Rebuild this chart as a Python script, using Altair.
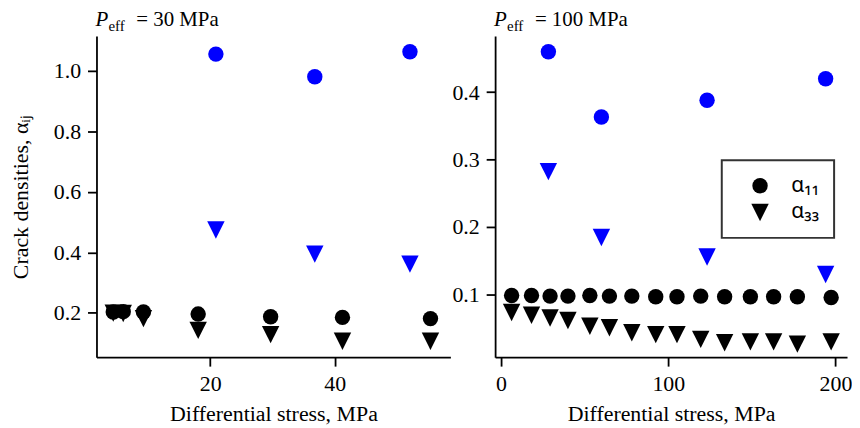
import altair as alt
import pandas as pd

# ---------------- data ----------------
comp_labels = ["α₁₁", "α₃₃"]

# Left panel: P_eff = 30 MPa
left_x_black = [4.4, 6.0, 9.25, 18.05, 29.7, 41.25, 55.4]
left_a11_black = [0.203, 0.204, 0.203, 0.196, 0.187, 0.185, 0.181]
left_a33_black = [0.199, 0.198, 0.181, 0.142, 0.128, 0.106, 0.106]
left_x_blue = [20.9, 36.8, 52.1]
left_a11_blue = [1.055, 0.980, 1.063]
left_a33_blue = [0.474, 0.394, 0.361]

# Right panel: P_eff = 100 MPa
right_x_black = [6.3, 18.2, 29.3, 40.0, 53.1, 64.8, 78.2, 92.5, 105.2, 119.4,
                 133.7, 149.1, 163.0, 177.2, 197.4]
right_a11_black = [0.098, 0.098, 0.097, 0.097, 0.098, 0.097, 0.097, 0.096, 0.096,
                   0.097, 0.096, 0.096, 0.096, 0.096, 0.095]
right_a33_black = [0.0726, 0.0685, 0.0645, 0.0608, 0.0523, 0.050, 0.0426, 0.0398,
                   0.0398, 0.0327, 0.0278, 0.029, 0.029, 0.0257, 0.029]
right_x_blue = [28.3, 60.0, 123.2, 194.1]
right_a11_blue = [0.460, 0.363, 0.388, 0.420]
right_a33_blue = [0.282, 0.184, 0.155, 0.129]

left_x_ticks = [20, 40]
left_y_ticks = [0.2, 0.4, 0.6, 0.8, 1.0]
right_x_ticks = [0, 100, 200]
right_y_ticks = [0.1, 0.2, 0.3, 0.4]


def build(xb, a11b, a33b, xbl, a11bl, a33bl):
    rows = []
    for x, v in zip(xb, a11b):
        rows.append({"x": x, "v": v, "comp": comp_labels[0], "grp": "black"})
    for x, v in zip(xb, a33b):
        rows.append({"x": x, "v": v, "comp": comp_labels[1], "grp": "black"})
    for x, v in zip(xbl, a11bl):
        rows.append({"x": x, "v": v, "comp": comp_labels[0], "grp": "blue"})
    for x, v in zip(xbl, a33bl):
        rows.append({"x": x, "v": v, "comp": comp_labels[1], "grp": "blue"})
    return pd.DataFrame(rows)


left_df = build(left_x_black, left_a11_black, left_a33_black,
                left_x_blue, left_a11_blue, left_a33_blue)
right_df = build(right_x_black, right_a11_black, right_a33_black,
                 right_x_blue, right_a11_blue, right_a33_blue)

SERIF = "Liberation Serif"
FS = 22
TFS = 21
TRI = "M-1.13,-1.13L1.13,-1.13L0,1.13Z"

shape_scale = alt.Scale(domain=comp_labels, range=["circle", TRI])
color_scale = alt.Scale(domain=["black", "blue"], range=["#000000", "#0000ff"])


def title_layer(pressure):
    empty = alt.Data(values=[{}])
    p = alt.Chart(empty).mark_text(
        text="P", font=SERIF, fontStyle="italic", fontSize=TFS,
        align="left", baseline="alphabetic", color="black"
    ).encode(x=alt.value(-1), y=alt.value(-10))
    sub = alt.Chart(empty).mark_text(
        text="eff", font=SERIF, fontSize=15,
        align="left", baseline="alphabetic", color="black"
    ).encode(x=alt.value(12), y=alt.value(-5))
    rest = alt.Chart(empty).mark_text(
        text=f"= {pressure} MPa", font=SERIF, fontSize=TFS,
        align="left", baseline="alphabetic", color="black"
    ).encode(x=alt.value(40), y=alt.value(-10))
    return [p, sub, rest]


def panel(df, xdom, ydom, xt, yt, ytitle, legend, pressure, w):
    pts = alt.Chart(df).mark_point(filled=True, size=240, opacity=1, strokeWidth=0).encode(
        x=alt.X("x:Q", scale=alt.Scale(domain=xdom, nice=False, zero=False),
                axis=alt.Axis(values=xt, format="d", title="Differential stress, MPa")),
        y=alt.Y("v:Q", scale=alt.Scale(domain=ydom, nice=False, zero=False),
                axis=alt.Axis(values=yt, format=".1f", title=ytitle)),
        shape=alt.Shape("comp:N", scale=shape_scale, legend=legend),
        color=alt.Color("grp:N", scale=color_scale, legend=None),
    )
    return alt.layer(pts, *title_layer(pressure)).properties(width=w, height=323)


legend_right = alt.Legend(
    title=None, orient="none", legendX=228, legendY=125, direction="vertical",
    labelFont="Noto Sans", labelFontSize=21, labelColor="black",
    symbolSize=240, symbolFillColor="black", symbolStrokeColor="black",
    symbolStrokeWidth=0, symbolType="circle",
    strokeColor="#333333", fillColor="white", padding=15, rowPadding=5,
    labelOffset=21, symbolOffset=13, cornerRadius=0,
)

left = panel(left_df, [1.7, 58.6], [0.0536, 1.1146], left_x_ticks, left_y_ticks,
             "Crack densities, αᵢⱼ", None, 30, 356)
right = panel(right_df, [-3.56, 206.9], [0.0063, 0.4833], right_x_ticks, right_y_ticks,
              None, legend_right, 100, 354)

chart = alt.hconcat(left, right, spacing=1).resolve_scale(
    x="independent", y="independent", shape="independent", color="independent"
).resolve_legend(shape="independent", color="independent").properties(
    padding={"left": 2, "top": 0, "right": 0, "bottom": 0}
).configure_view(
    stroke=None
).configure_legend(
    strokeWidth=2
).configure_axis(
    grid=False, labelFont=SERIF, labelFontSize=FS, labelColor="black",
    titleFont=SERIF, titleFontSize=FS, titleFontWeight="normal", titleColor="black",
    domainColor="black", domainWidth=1.8, tickColor="black", tickWidth=1.8, tickSize=9,
).configure_axisX(titlePadding=9, labelPadding=8).configure_axisY(titlePadding=20.5, labelPadding=7)

chart.save("out.html", embed_options={"renderer": "svg", "actions": False})
